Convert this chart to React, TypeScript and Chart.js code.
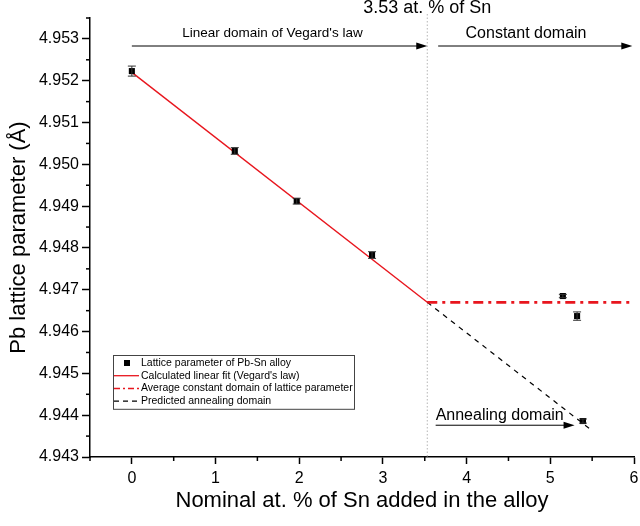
import React, { useEffect, useRef } from 'react';
import { Chart, registerables } from 'chart.js';
Chart.register(...registerables);

const FONT = '"Liberation Sans", Arial, sans-serif';

const SN_PERCENT = [0, 1.23, 1.97, 2.87, 5.15, 5.32, 5.39];
const LATTICE = [4.95223, 4.95032, 4.94912, 4.94783, 4.94685, 4.94637, 4.94386];
const LATTICE_ERR = [0.00012, 0.00008, 0.00007, 0.00008, 0.00004, 0.0001, 0.00005];

const FIT_X = [0, 3.53];
const FIT_Y = [4.9522, 4.9467];
const CONST_X = [3.53, 6];
const CONST_Y = [4.9467, 4.9467];
const PRED_X = [3.53, 5.5];
const PRED_Y = [4.9467, 4.94363];

const X_TICKS = [0, 1, 2, 3, 4, 5, 6];
const Y_TICKS = [4.943, 4.944, 4.945, 4.946, 4.947, 4.948, 4.949, 4.95, 4.951, 4.952, 4.953];

const THRESHOLD = 3.53;
const THRESHOLD_LABEL = '3.53 at. % of Sn';
const LEGEND_LABELS = [
  'Lattice parameter of Pb-Sn alloy',
  "Calculated linear fit (Vegard's law)",
  'Average constant domain of lattice parameter',
  'Predicted annealing domain',
];
const RED = '#e8161e';

const pts = (xs: number[], ys: number[]) => xs.map((x, i) => ({ x, y: ys[i] }));

function arrow(ctx: CanvasRenderingContext2D, x1: number, y: number, x2: number) {
  ctx.beginPath();
  ctx.moveTo(x1, y);
  ctx.lineTo(x2 - 8, y);
  ctx.stroke();
  ctx.beginPath();
  ctx.moveTo(x2, y);
  ctx.lineTo(x2 - 11, y - 3.5);
  ctx.lineTo(x2 - 11, y + 3.5);
  ctx.closePath();
  ctx.fill();
}

const annotate = {
  id: 'annotate',
  beforeDatasetsDraw(chart: any) {
    const { ctx, chartArea, scales } = chart;
    const px = scales.x.getPixelForValue(THRESHOLD);
    ctx.save();
    ctx.strokeStyle = '#b5b5b5';
    ctx.lineWidth = 1;
    ctx.setLineDash([1.5, 2]);
    ctx.beginPath();
    ctx.moveTo(px, chartArea.top - 4);
    ctx.lineTo(px, chartArea.bottom);
    ctx.stroke();
    ctx.restore();
  },
  afterDatasetsDraw(chart: any) {
    const { ctx, chartArea, scales } = chart;
    const xs = scales.x, ys = scales.y;
    ctx.save();
    // error bars
    ctx.strokeStyle = '#333';
    ctx.lineWidth = 1;
    SN_PERCENT.forEach((v, i) => {
      const px = xs.getPixelForValue(v);
      const top = ys.getPixelForValue(LATTICE[i] + LATTICE_ERR[i]);
      const bot = ys.getPixelForValue(LATTICE[i] - LATTICE_ERR[i]);
      ctx.beginPath();
      ctx.moveTo(px, top); ctx.lineTo(px, bot);
      ctx.moveTo(px - 4, top); ctx.lineTo(px + 4, top);
      ctx.moveTo(px - 4, bot); ctx.lineTo(px + 4, bot);
      ctx.stroke();
    });
    // minor ticks
    ctx.strokeStyle = '#000';
    ctx.lineWidth = 1.5;
    const xMinor = [xs.min, ...X_TICKS.slice(0, -1).map((t, i) => (t + X_TICKS[i + 1]) / 2)];
    xMinor.forEach((v) => {
      const px = xs.getPixelForValue(v);
      ctx.beginPath(); ctx.moveTo(px, chartArea.bottom); ctx.lineTo(px, chartArea.bottom + 4); ctx.stroke();
    });
    const yMinor = [...Y_TICKS.slice(0, -1).map((t, i) => (t + Y_TICKS[i + 1]) / 2), ys.max];
    yMinor.forEach((v) => {
      const py = ys.getPixelForValue(v);
      ctx.beginPath(); ctx.moveTo(chartArea.left, py); ctx.lineTo(chartArea.left - 4, py); ctx.stroke();
    });

    // top annotations
    ctx.fillStyle = '#000';
    ctx.strokeStyle = '#000';
    ctx.lineWidth = 1;
    ctx.textBaseline = 'middle';
    ctx.textAlign = 'center';
    const tx = xs.getPixelForValue(THRESHOLD);
    ctx.font = `18px ${FONT}`;
    ctx.fillText(THRESHOLD_LABEL, tx, ys.getPixelForValue(4.95374));
    ctx.font = `13.5px ${FONT}`;
    ctx.fillText("Linear domain of Vegard's law", xs.getPixelForValue(1.68), ys.getPixelForValue(4.95314));
    ctx.font = `16px ${FONT}`;
    ctx.fillText('Constant domain', xs.getPixelForValue(4.71), ys.getPixelForValue(4.95312));
    const ay = ys.getPixelForValue(4.95283);
    arrow(ctx, xs.getPixelForValue(0), ay, xs.getPixelForValue(3.53));
    arrow(ctx, xs.getPixelForValue(3.66), ay, xs.getPixelForValue(5.98));

    // annealing domain
    ctx.textAlign = 'left';
    ctx.font = `16px ${FONT}`;
    const ax = xs.getPixelForValue(3.63);
    ctx.fillText('Annealing domain', ax, ys.getPixelForValue(4.94398));
    arrow(ctx, ax, ys.getPixelForValue(4.94376), xs.getPixelForValue(5.29));

    // legend
    const lx = chartArea.left + 23;
    const ly = 355;
    const lw = 241;
    const rowH = 12.7;
    ctx.lineWidth = 1;
    ctx.strokeStyle = '#444';
    ctx.fillStyle = '#fff';
    ctx.fillRect(lx, ly, lw, rowH * 4 + 3);
    ctx.strokeRect(lx + 0.5, ly + 0.5, lw, rowH * 4 + 3);
    ctx.font = `10.5px ${FONT}`;
    ctx.textAlign = 'left';
    LEGEND_LABELS.forEach((lab, i) => {
      const cy = ly + 8 + i * rowH;
      ctx.fillStyle = '#000';
      ctx.fillText(lab, lx + 28, cy);
      ctx.save();
      if (i === 0) {
        ctx.fillRect(lx + 11, cy - 3, 6, 6);
      } else {
        ctx.beginPath();
        ctx.moveTo(lx + 1, cy); ctx.lineTo(lx + 26, cy);
        if (i === 1) { ctx.strokeStyle = RED; ctx.lineWidth = 1.3; }
        if (i === 2) { ctx.strokeStyle = RED; ctx.lineWidth = 1.5; ctx.setLineDash([6, 3, 2, 3]); }
        if (i === 3) { ctx.strokeStyle = '#000'; ctx.lineWidth = 1.3; ctx.setLineDash([5, 4]); }
        ctx.stroke();
      }
      ctx.restore();
    });
    ctx.restore();
  },
};

export default function App() {
  const ref = useRef<HTMLCanvasElement | null>(null);
  useEffect(() => {
    document.body.style.margin = '0';
    const canvas = ref.current;
    if (!canvas) return;
    const tickFont = { family: FONT, size: 16 };
    const chart = new Chart(canvas, {
      type: 'scatter',
      data: {
        datasets: [
          {
            label: LEGEND_LABELS[0],
            data: pts(SN_PERCENT, LATTICE),
            pointStyle: 'rect',
            pointRadius: 4.3,
            backgroundColor: '#000',
            borderColor: '#000',
            borderWidth: 0,
            showLine: false,
          },
          {
            label: LEGEND_LABELS[1],
            data: pts(FIT_X, FIT_Y),
            showLine: true,
            borderColor: RED,
            borderWidth: 1.4,
            pointRadius: 0,
          },
          {
            label: LEGEND_LABELS[2],
            data: pts(CONST_X, CONST_Y),
            showLine: true,
            borderColor: RED,
            borderWidth: 2.8,
            borderDash: [10, 5, 3, 5],
            pointRadius: 0,
          },
          {
            label: LEGEND_LABELS[3],
            data: pts(PRED_X, PRED_Y),
            showLine: true,
            borderColor: '#000',
            borderWidth: 1.2,
            borderDash: [5, 5],
            pointRadius: 0,
          },
        ],
      },
      options: {
        animation: false,
        responsive: false,
        devicePixelRatio: 1,
        layout: { padding: { top: 18, right: 6, left: 0, bottom: 0 } },
        plugins: { legend: { display: false }, tooltip: { enabled: false } },
        scales: {
          x: {
            type: 'linear',
            min: -0.5,
            max: 6,
            afterBuildTicks: (s: any) => { s.ticks = X_TICKS.map((v) => ({ value: v })); },
            afterFit: (s: any) => { s.height = 69; s.paddingRight = 0; s.paddingLeft = 0; },
            ticks: { font: tickFont, color: '#000', padding: 5, maxRotation: 0, autoSkip: false, callback: (v: any) => String(v) },
            grid: { display: true, drawOnChartArea: false, drawTicks: true, tickLength: 7, color: '#000', tickWidth: 1.5 },
            border: { display: true, color: '#000', width: 1.5 },
            title: { display: true, text: 'Nominal at. % of Sn added in the alloy', color: '#000', font: { family: FONT, size: 22 }, padding: { top: 0, bottom: 12 } },
          },
          y: {
            type: 'linear',
            min: 4.943,
            max: 4.9535,
            afterBuildTicks: (s: any) => { s.ticks = Y_TICKS.map((v) => ({ value: v })); },
            afterFit: (s: any) => { s.width = 90; s.paddingTop = 0; s.paddingBottom = 0; },
            ticks: { font: tickFont, color: '#000', padding: 3, autoSkip: false, callback: (v: any) => Number(v).toFixed(3) },
            grid: { display: true, drawOnChartArea: false, drawTicks: true, tickLength: 8, color: '#000', tickWidth: 1.5 },
            border: { display: true, color: '#000', width: 1.5 },
            title: { display: true, text: 'Pb lattice parameter (Å)', color: '#000', font: { family: FONT, size: 22 }, padding: { top: 6, bottom: 0 } },
          },
        },
      },
      plugins: [annotate],
    });
    return () => chart.destroy();
  }, []);
  return (
    <div style={{ width: 640, height: 526 }}>
      <canvas ref={ref} width={640} height={526} />
    </div>
  );
}
